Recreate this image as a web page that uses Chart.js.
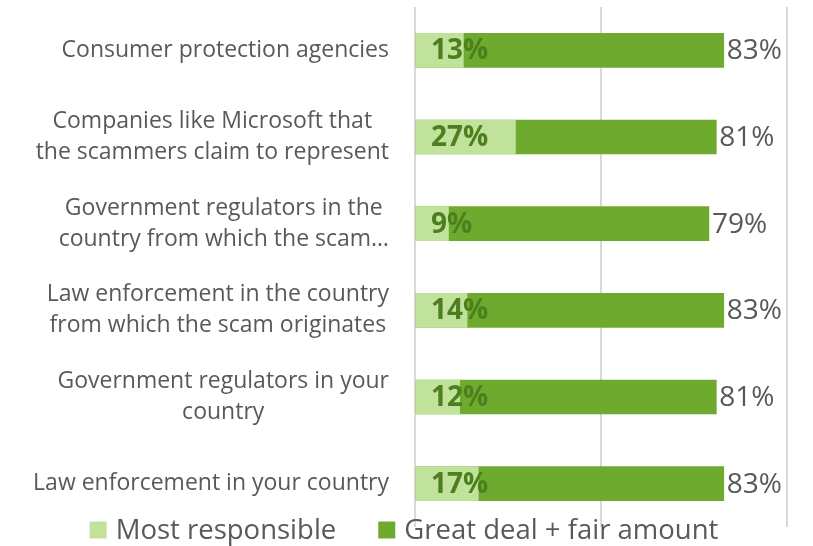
<!DOCTYPE html>
<html>
<head>
<meta charset="utf-8">
<script src="https://cdn.jsdelivr.net/npm/chart.js@4/dist/chart.umd.min.js"></script>
<style>
    html, body { margin: 0; padding: 0; background: #fff; }
    #wrap { width: 813px; height: 546px; position: relative; }
</style>
</head>
<body>
<div id="wrap"><canvas id="resp-chart"></canvas></div>
<script>
// Data
const categories = [
    'Consumer protection agencies',
    ['Companies like Microsoft that', 'the scammers claim to represent'],
    ['Government regulators in the', 'country from which the scam…'],
    ['Law enforcement in the country', 'from which the scam originates'],
    ['Government regulators in your', 'country'],
    'Law enforcement in your country'
];
const mostResponsible = [13, 27, 9, 14, 12, 17];
const greatDealFair = [83, 81, 79, 83, 81, 83];
const seriesNames = ['Most responsible', 'Great deal + fair amount'];
const xTicks = [0, 50, 100];


// Styles
const FONT = '"Open Sans", "DejaVu Sans", sans-serif';
const LIGHT = '#c0e29b';
const DARK = '#6eaa2e';
const TEXT = '#595959';
const INNER_TEXT = '#4e7f1e';
const GRID = '#d9d9d9';


// Labels, category names and legend are painted after the bars
const labelPlugin = {
    id: 'labelPlugin',
    afterDatasetsDraw(chart) {
        const ctx = chart.ctx;
        const x = chart.scales.x;
        const y = chart.scales.y;
        ctx.save();
        ctx.textBaseline = 'middle';

        // value labels
        categories.forEach((c, i) => {
            const yc = y.getPixelForValue(i);
            ctx.font = 'bold 28px ' + FONT;
            ctx.fillStyle = INNER_TEXT;
            ctx.textAlign = 'left';
            ctx.fillText(mostResponsible[i] + '%', x.getPixelForValue(0) + 16, yc + 1);

            ctx.font = '28px ' + FONT;
            ctx.fillStyle = TEXT;
            ctx.fillText(greatDealFair[i] + '%', x.getPixelForValue(greatDealFair[i]) + 3, yc + 1);
        });

        // category names: lines centred on each other, block right-aligned
        ctx.font = '23px ' + FONT;
        ctx.fillStyle = TEXT;
        ctx.textAlign = 'center';
        const rightEdge = 389;
        const lineH = 31;
        categories.forEach((c, i) => {
            const lines = Array.isArray(c) ? c : [c];
            const w = Math.max(...lines.map(l => ctx.measureText(l).width));
            const cx = rightEdge - w / 2;
            const yc = y.getPixelForValue(i);
            lines.forEach((l, j) => {
                ctx.fillText(l, cx, yc + (j - (lines.length - 1) / 2) * lineH);
            });
        });

        // legend
        ctx.font = '27.5px ' + FONT;
        ctx.textAlign = 'left';
        const box = 17, gap = 9, itemGap = 42;
        const colors = [LIGHT, DARK];
        const widths = seriesNames.map(n => ctx.measureText(n).width);
        const total = widths.reduce((a, b) => a + b, 0) + 2 * (box + gap) + itemGap;
        let lx = 404 - total / 2;
        const ly = 530;
        seriesNames.forEach((n, i) => {
            ctx.fillStyle = colors[i];
            ctx.fillRect(lx, ly - box / 2, box, box);
            ctx.fillStyle = TEXT;
            ctx.fillText(n, lx + box + gap, ly + 1);
            lx += box + gap + widths[i] + itemGap;
        });
        ctx.restore();
    }
};


// Chart
const ctx = document.getElementById('resp-chart');
new Chart(ctx, {
    type: 'bar',
    data: {
        labels: categories,
        datasets: [{
            label: seriesNames[0],
            data: mostResponsible,
            backgroundColor: LIGHT,
            barThickness: 34
        }, {
            label: seriesNames[1],
            data: greatDealFair,
            backgroundColor: DARK,
            barThickness: 34
        }]
    },
    options: {
        indexAxis: 'y',
        responsive: true,
        maintainAspectRatio: false,
        animation: false,
        layout: {
            padding: { left: 415, right: 26, top: 7, bottom: 19 }
        },
        scales: {
            x: {
                min: 0,
                max: 100,
                afterBuildTicks: scale => { scale.ticks = xTicks.map(v => ({ value: v })); },
                ticks: { display: false },
                grid: { color: GRID, lineWidth: 2, drawTicks: false },
                border: { display: false }
            },
            y: {
                display: false,
                stacked: true
            }
        },
        plugins: {
            legend: { display: false },
            tooltip: { enabled: false }
        }
    },
    plugins: [labelPlugin]
});
</script>
</body>
</html>
